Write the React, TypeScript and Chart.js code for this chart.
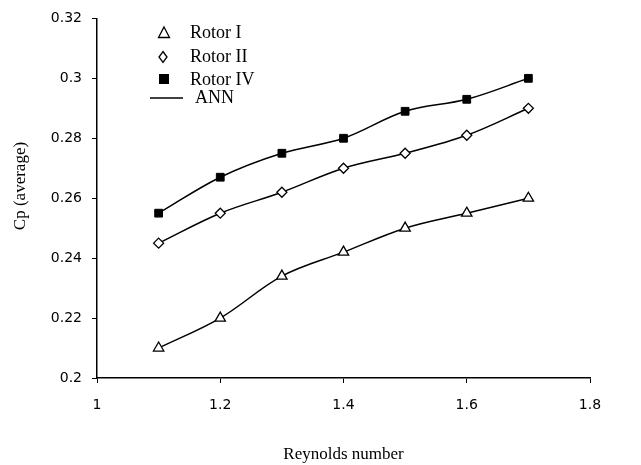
import React, { useEffect, useRef } from "react";
import { Chart, registerables } from "chart.js";

Chart.register(...registerables);

const reynolds = [1.1, 1.2, 1.3, 1.4, 1.5, 1.6, 1.7];
const rotorI = [0.21, 0.22, 0.234, 0.242, 0.25, 0.255, 0.26];
const rotorII = [0.245, 0.255, 0.262, 0.27, 0.275, 0.281, 0.29];
const rotorIV = [0.255, 0.267, 0.275, 0.28, 0.289, 0.293, 0.3];
const seriesLabels = ["Rotor I", "Rotor II", "Rotor IV", "ANN"];

const toXY = (ys: number[]) => reynolds.map((x, i) => ({ x, y: ys[i] }));

const legendPlugin = {
  id: "customLegend",
  afterDraw(chart: any) {
    const ctx = chart.ctx;
    ctx.save();
    ctx.strokeStyle = "#000";
    ctx.lineWidth = 1.3;
    // triangle
    const tx = 164, ty = 33;
    ctx.fillStyle = "#fff";
    ctx.beginPath();
    ctx.moveTo(tx, ty - 6);
    ctx.lineTo(tx + 5.5, ty + 4.5);
    ctx.lineTo(tx - 5.5, ty + 4.5);
    ctx.closePath();
    ctx.fill();
    ctx.stroke();
    // diamond
    const dx = 163, dy = 57;
    ctx.beginPath();
    ctx.moveTo(dx, dy - 5.5);
    ctx.lineTo(dx + 4, dy);
    ctx.lineTo(dx, dy + 5.5);
    ctx.lineTo(dx - 4, dy);
    ctx.closePath();
    ctx.fill();
    ctx.stroke();
    // square
    ctx.fillStyle = "#000";
    ctx.fillRect(159, 74, 10, 10);
    // line
    ctx.beginPath();
    ctx.moveTo(150, 98);
    ctx.lineTo(183, 98);
    ctx.stroke();
    ctx.fillStyle = "#000";
    ctx.font = "18px 'Liberation Serif', serif";
    ctx.textBaseline = "middle";
    ctx.textAlign = "left";
    ctx.fillText(seriesLabels[0], 190, 33);
    ctx.fillText(seriesLabels[1], 190, 57);
    ctx.fillText(seriesLabels[2], 190, 80);
    ctx.fillText(seriesLabels[3], 195, 98);
    // y axis title
    ctx.save();
    ctx.translate(21, 186);
    ctx.rotate(-Math.PI / 2);
    ctx.textAlign = "center";
    ctx.font = "17px 'Liberation Serif', serif";
    ctx.fillText("Cp (average)", 0, 0);
    ctx.restore();
    ctx.restore();
  },
};

export default function App() {
  const ref = useRef<HTMLCanvasElement>(null);
  useEffect(() => {
    if (!ref.current) return;
    const annLine = (ys: number[]) => ({
      label: "ANN",
      data: toXY(ys),
      showLine: true,
      borderColor: "#000",
      borderWidth: 1.5,
      pointRadius: 0,
      tension: 0.35,
      fill: false,
      order: 2,
    });
    const tickFont = { family: "'DejaVu Sans', sans-serif", size: 14 };
    const chart = new Chart(ref.current, {
      type: "scatter",
      data: {
        datasets: [
          annLine(rotorI),
          annLine(rotorII),
          annLine(rotorIV),
          {
            label: seriesLabels[0],
            data: toXY(rotorI),
            pointStyle: "triangle",
            pointRadius: 6,
            backgroundColor: "#fff",
            borderColor: "#000",
            borderWidth: 1.3,
            order: 0,
          },
          {
            label: seriesLabels[1],
            data: toXY(rotorII),
            pointStyle: "rectRot",
            pointRadius: 5,
            backgroundColor: "#fff",
            borderColor: "#000",
            borderWidth: 1.3,
            order: 0,
          },
          {
            label: seriesLabels[2],
            data: toXY(rotorIV),
            pointStyle: "rect",
            pointRadius: 5.5,
            backgroundColor: "#000",
            borderColor: "#000",
            borderWidth: 1,
            order: 0,
          },
        ],
      },
      options: {
        responsive: false,
        animation: false,
        layout: { padding: { left: 0, right: 51, top: 17, bottom: 0 } },
        plugins: {
          legend: { display: false },
          tooltip: { enabled: false },
        },
        scales: {
          x: {
            type: "linear",
            min: 1,
            max: 1.8,
            ticks: {
              stepSize: 0.2,
              color: "#000",
              padding: 14,
              font: tickFont,
              callback: (v: any) => String(Number(Number(v).toFixed(2))),
            },
            grid: { drawOnChartArea: false, drawTicks: true, tickLength: 5, color: "#000" },
            border: { display: true, color: "#000", width: 1.5 },
            title: {
              display: true,
              text: "Reynolds number",
              color: "#000",
              font: { family: "'Liberation Serif', serif", size: 17 },
              padding: { top: 0, bottom: 0 },
            },
            afterFit: (s: any) => {
              s.height = 465 - 378;
            },
          },
          y: {
            type: "linear",
            min: 0.2,
            max: 0.32,
            ticks: {
              stepSize: 0.02,
              color: "#000",
              padding: 10,
              font: tickFont,
              callback: (v: any) => String(Number(Number(v).toFixed(2))),
            },
            grid: { drawOnChartArea: false, drawTicks: true, tickLength: 5, color: "#000" },
            border: { display: true, color: "#000", width: 1.5 },
            title: { display: false },
            afterFit: (s: any) => {
              s.width = 97;
            },
          },
        },
      },
      plugins: [legendPlugin],
    });
    return () => chart.destroy();
  }, []);
  return (
    <div style={{ position: "fixed", left: 0, top: 0, width: 641, height: 465, background: "#fff" }}>
      <canvas ref={ref} width={641} height={465} />
    </div>
  );
}
